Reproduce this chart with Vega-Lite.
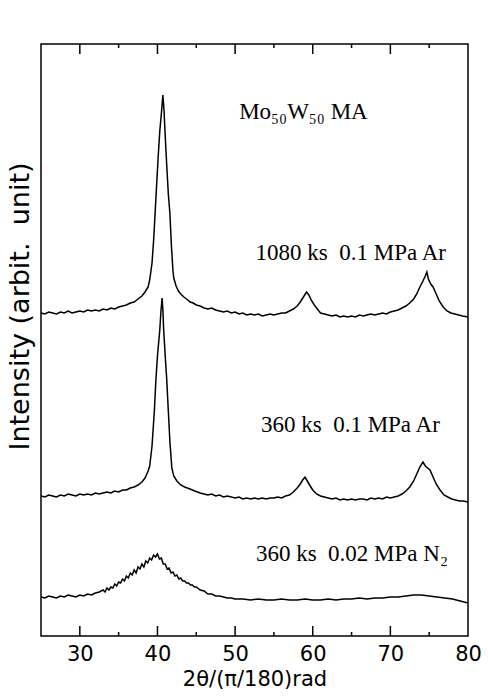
{
  "$schema": "https://vega.github.io/schema/vega-lite/v6.json",
  "width": 427,
  "height": 592,
  "autosize": {"type": "none"},
  "padding": {"left": 41, "top": 44, "right": 20, "bottom": 60},
  "background": "white",
  "config": {
    "view": {"stroke": "black", "strokeWidth": 1.5},
    "axis": {"grid": false, "domain": false, "labelColor": "black", "titleColor": "black"}
  },
  "datasets": {
    "curves": [
      {"series": "1080 ks", "angle": 25, "intensity": 323}, {"series": "1080 ks", "angle": 25.5, "intensity": 322}, {"series": "1080 ks", "angle": 26, "intensity": 324}, {"series": "1080 ks", "angle": 26.5, "intensity": 323}, {"series": "1080 ks", "angle": 27, "intensity": 322}, {"series": "1080 ks", "angle": 27.5, "intensity": 324}, {"series": "1080 ks", "angle": 28, "intensity": 323}, {"series": "1080 ks", "angle": 28.5, "intensity": 325}, {"series": "1080 ks", "angle": 29, "intensity": 323}, {"series": "1080 ks", "angle": 29.5, "intensity": 324}, {"series": "1080 ks", "angle": 30, "intensity": 325}, {"series": "1080 ks", "angle": 30.5, "intensity": 324}, {"series": "1080 ks", "angle": 31, "intensity": 326}, {"series": "1080 ks", "angle": 31.5, "intensity": 325}, {"series": "1080 ks", "angle": 32, "intensity": 326}, {"series": "1080 ks", "angle": 32.5, "intensity": 325}, {"series": "1080 ks", "angle": 33, "intensity": 327}, {"series": "1080 ks", "angle": 33.5, "intensity": 326}, {"series": "1080 ks", "angle": 34, "intensity": 328}, {"series": "1080 ks", "angle": 34.5, "intensity": 327}, {"series": "1080 ks", "angle": 35, "intensity": 329}, {"series": "1080 ks", "angle": 35.5, "intensity": 330}, {"series": "1080 ks", "angle": 36, "intensity": 331}, {"series": "1080 ks", "angle": 36.5, "intensity": 333}, {"series": "1080 ks", "angle": 37, "intensity": 334}, {"series": "1080 ks", "angle": 37.5, "intensity": 337}, {"series": "1080 ks", "angle": 38, "intensity": 340}, {"series": "1080 ks", "angle": 38.4, "intensity": 344}, {"series": "1080 ks", "angle": 38.8, "intensity": 349}, {"series": "1080 ks", "angle": 39.0, "intensity": 356}, {"series": "1080 ks", "angle": 39.3, "intensity": 373}, {"series": "1080 ks", "angle": 39.5, "intensity": 395}, {"series": "1080 ks", "angle": 39.7, "intensity": 423}, {"series": "1080 ks", "angle": 39.9, "intensity": 452}, {"series": "1080 ks", "angle": 40.1, "intensity": 480}, {"series": "1080 ks", "angle": 40.3, "intensity": 505}, {"series": "1080 ks", "angle": 40.5, "intensity": 522}, {"series": "1080 ks", "angle": 40.7, "intensity": 541}, {"series": "1080 ks", "angle": 40.85, "intensity": 525}, {"series": "1080 ks", "angle": 41.0, "intensity": 500}, {"series": "1080 ks", "angle": 41.2, "intensity": 470}, {"series": "1080 ks", "angle": 41.4, "intensity": 442}, {"series": "1080 ks", "angle": 41.6, "intensity": 423}, {"series": "1080 ks", "angle": 41.8, "intensity": 390}, {"series": "1080 ks", "angle": 42.0, "intensity": 365}, {"series": "1080 ks", "angle": 42.1, "intensity": 358}, {"series": "1080 ks", "angle": 42.4, "intensity": 350}, {"series": "1080 ks", "angle": 42.7, "intensity": 345}, {"series": "1080 ks", "angle": 43.0, "intensity": 342}, {"series": "1080 ks", "angle": 43.4, "intensity": 339}, {"series": "1080 ks", "angle": 43.75, "intensity": 337}, {"series": "1080 ks", "angle": 44.2, "intensity": 334}, {"series": "1080 ks", "angle": 44.6, "intensity": 333}, {"series": "1080 ks", "angle": 45, "intensity": 331}, {"series": "1080 ks", "angle": 45.5, "intensity": 330}, {"series": "1080 ks", "angle": 46, "intensity": 328}, {"series": "1080 ks", "angle": 46.5, "intensity": 327}, {"series": "1080 ks", "angle": 47, "intensity": 328}, {"series": "1080 ks", "angle": 47.5, "intensity": 326}, {"series": "1080 ks", "angle": 48, "intensity": 325}, {"series": "1080 ks", "angle": 48.5, "intensity": 324}, {"series": "1080 ks", "angle": 49, "intensity": 325}, {"series": "1080 ks", "angle": 49.5, "intensity": 323}, {"series": "1080 ks", "angle": 50, "intensity": 324}, {"series": "1080 ks", "angle": 50.5, "intensity": 322}, {"series": "1080 ks", "angle": 51, "intensity": 323}, {"series": "1080 ks", "angle": 51.5, "intensity": 321}, {"series": "1080 ks", "angle": 52, "intensity": 322}, {"series": "1080 ks", "angle": 52.5, "intensity": 321}, {"series": "1080 ks", "angle": 53, "intensity": 322}, {"series": "1080 ks", "angle": 53.5, "intensity": 320}, {"series": "1080 ks", "angle": 54, "intensity": 321}, {"series": "1080 ks", "angle": 54.5, "intensity": 322}, {"series": "1080 ks", "angle": 55, "intensity": 321}, {"series": "1080 ks", "angle": 55.5, "intensity": 322}, {"series": "1080 ks", "angle": 56, "intensity": 323}, {"series": "1080 ks", "angle": 56.5, "intensity": 323}, {"series": "1080 ks", "angle": 57, "intensity": 325}, {"series": "1080 ks", "angle": 57.5, "intensity": 327}, {"series": "1080 ks", "angle": 58, "intensity": 330}, {"series": "1080 ks", "angle": 58.4, "intensity": 334}, {"series": "1080 ks", "angle": 58.8, "intensity": 339}, {"series": "1080 ks", "angle": 59.2, "intensity": 344}, {"series": "1080 ks", "angle": 59.5, "intensity": 341}, {"series": "1080 ks", "angle": 59.8, "intensity": 336}, {"series": "1080 ks", "angle": 60.2, "intensity": 331}, {"series": "1080 ks", "angle": 60.6, "intensity": 327}, {"series": "1080 ks", "angle": 61, "intensity": 323}, {"series": "1080 ks", "angle": 61.5, "intensity": 322}, {"series": "1080 ks", "angle": 62, "intensity": 321}, {"series": "1080 ks", "angle": 62.5, "intensity": 320}, {"series": "1080 ks", "angle": 63, "intensity": 321}, {"series": "1080 ks", "angle": 63.5, "intensity": 319}, {"series": "1080 ks", "angle": 64, "intensity": 320}, {"series": "1080 ks", "angle": 64.5, "intensity": 319}, {"series": "1080 ks", "angle": 65, "intensity": 320}, {"series": "1080 ks", "angle": 65.5, "intensity": 319}, {"series": "1080 ks", "angle": 66, "intensity": 321}, {"series": "1080 ks", "angle": 66.5, "intensity": 320}, {"series": "1080 ks", "angle": 67, "intensity": 321}, {"series": "1080 ks", "angle": 67.5, "intensity": 322}, {"series": "1080 ks", "angle": 68, "intensity": 321}, {"series": "1080 ks", "angle": 68.5, "intensity": 322}, {"series": "1080 ks", "angle": 69, "intensity": 323}, {"series": "1080 ks", "angle": 69.5, "intensity": 322}, {"series": "1080 ks", "angle": 70, "intensity": 324}, {"series": "1080 ks", "angle": 70.5, "intensity": 325}, {"series": "1080 ks", "angle": 71, "intensity": 326}, {"series": "1080 ks", "angle": 71.5, "intensity": 328}, {"series": "1080 ks", "angle": 72, "intensity": 330}, {"series": "1080 ks", "angle": 72.5, "intensity": 333}, {"series": "1080 ks", "angle": 73, "intensity": 337}, {"series": "1080 ks", "angle": 73.4, "intensity": 342}, {"series": "1080 ks", "angle": 73.8, "intensity": 349}, {"series": "1080 ks", "angle": 74.2, "intensity": 355}, {"series": "1080 ks", "angle": 74.5, "intensity": 360}, {"series": "1080 ks", "angle": 74.7, "intensity": 364}, {"series": "1080 ks", "angle": 74.9, "intensity": 357}, {"series": "1080 ks", "angle": 75.2, "intensity": 352}, {"series": "1080 ks", "angle": 75.5, "intensity": 349}, {"series": "1080 ks", "angle": 75.9, "intensity": 342}, {"series": "1080 ks", "angle": 76.3, "intensity": 335}, {"series": "1080 ks", "angle": 76.8, "intensity": 329}, {"series": "1080 ks", "angle": 77.3, "intensity": 325}, {"series": "1080 ks", "angle": 77.8, "intensity": 323}, {"series": "1080 ks", "angle": 78.3, "intensity": 322}, {"series": "1080 ks", "angle": 78.8, "intensity": 321}, {"series": "1080 ks", "angle": 79.3, "intensity": 320}, {"series": "1080 ks", "angle": 80, "intensity": 319},

      {"series": "360 ks Ar", "angle": 25, "intensity": 140}, {"series": "360 ks Ar", "angle": 25.5, "intensity": 139}, {"series": "360 ks Ar", "angle": 26, "intensity": 141}, {"series": "360 ks Ar", "angle": 26.5, "intensity": 140}, {"series": "360 ks Ar", "angle": 27, "intensity": 139}, {"series": "360 ks Ar", "angle": 27.5, "intensity": 141}, {"series": "360 ks Ar", "angle": 28, "intensity": 140}, {"series": "360 ks Ar", "angle": 28.5, "intensity": 142}, {"series": "360 ks Ar", "angle": 29, "intensity": 141}, {"series": "360 ks Ar", "angle": 29.5, "intensity": 140}, {"series": "360 ks Ar", "angle": 30, "intensity": 142}, {"series": "360 ks Ar", "angle": 30.5, "intensity": 141}, {"series": "360 ks Ar", "angle": 31, "intensity": 142}, {"series": "360 ks Ar", "angle": 31.5, "intensity": 141}, {"series": "360 ks Ar", "angle": 32, "intensity": 143}, {"series": "360 ks Ar", "angle": 32.5, "intensity": 142}, {"series": "360 ks Ar", "angle": 33, "intensity": 143}, {"series": "360 ks Ar", "angle": 33.5, "intensity": 144}, {"series": "360 ks Ar", "angle": 34, "intensity": 143}, {"series": "360 ks Ar", "angle": 34.5, "intensity": 145}, {"series": "360 ks Ar", "angle": 35, "intensity": 144}, {"series": "360 ks Ar", "angle": 35.5, "intensity": 146}, {"series": "360 ks Ar", "angle": 36, "intensity": 146}, {"series": "360 ks Ar", "angle": 36.5, "intensity": 148}, {"series": "360 ks Ar", "angle": 37, "intensity": 149}, {"series": "360 ks Ar", "angle": 37.5, "intensity": 151}, {"series": "360 ks Ar", "angle": 38, "intensity": 154}, {"series": "360 ks Ar", "angle": 38.4, "intensity": 158}, {"series": "360 ks Ar", "angle": 38.8, "intensity": 165}, {"series": "360 ks Ar", "angle": 39.0, "intensity": 170}, {"series": "360 ks Ar", "angle": 39.3, "intensity": 190}, {"series": "360 ks Ar", "angle": 39.6, "intensity": 225}, {"series": "360 ks Ar", "angle": 39.8, "intensity": 256}, {"series": "360 ks Ar", "angle": 40.0, "intensity": 280}, {"series": "360 ks Ar", "angle": 40.3, "intensity": 306}, {"series": "360 ks Ar", "angle": 40.45, "intensity": 325}, {"series": "360 ks Ar", "angle": 40.6, "intensity": 338}, {"series": "360 ks Ar", "angle": 40.7, "intensity": 326}, {"series": "360 ks Ar", "angle": 40.8, "intensity": 306}, {"series": "360 ks Ar", "angle": 41.0, "intensity": 280}, {"series": "360 ks Ar", "angle": 41.2, "intensity": 256}, {"series": "360 ks Ar", "angle": 41.4, "intensity": 225}, {"series": "360 ks Ar", "angle": 41.6, "intensity": 195}, {"series": "360 ks Ar", "angle": 41.85, "intensity": 168}, {"series": "360 ks Ar", "angle": 42.1, "intensity": 160}, {"series": "360 ks Ar", "angle": 42.5, "intensity": 155}, {"series": "360 ks Ar", "angle": 43, "intensity": 151}, {"series": "360 ks Ar", "angle": 43.5, "intensity": 149}, {"series": "360 ks Ar", "angle": 44.2, "intensity": 147}, {"series": "360 ks Ar", "angle": 44.8, "intensity": 145}, {"series": "360 ks Ar", "angle": 45.5, "intensity": 143}, {"series": "360 ks Ar", "angle": 46, "intensity": 142}, {"series": "360 ks Ar", "angle": 46.5, "intensity": 141}, {"series": "360 ks Ar", "angle": 47, "intensity": 142}, {"series": "360 ks Ar", "angle": 47.5, "intensity": 140}, {"series": "360 ks Ar", "angle": 48, "intensity": 141}, {"series": "360 ks Ar", "angle": 48.5, "intensity": 139}, {"series": "360 ks Ar", "angle": 49, "intensity": 140}, {"series": "360 ks Ar", "angle": 49.5, "intensity": 139}, {"series": "360 ks Ar", "angle": 50, "intensity": 138}, {"series": "360 ks Ar", "angle": 50.5, "intensity": 139}, {"series": "360 ks Ar", "angle": 51, "intensity": 137}, {"series": "360 ks Ar", "angle": 51.5, "intensity": 138}, {"series": "360 ks Ar", "angle": 52, "intensity": 137}, {"series": "360 ks Ar", "angle": 52.5, "intensity": 138}, {"series": "360 ks Ar", "angle": 53, "intensity": 137}, {"series": "360 ks Ar", "angle": 53.5, "intensity": 138}, {"series": "360 ks Ar", "angle": 54, "intensity": 137}, {"series": "360 ks Ar", "angle": 54.5, "intensity": 138}, {"series": "360 ks Ar", "angle": 55, "intensity": 138}, {"series": "360 ks Ar", "angle": 55.5, "intensity": 139}, {"series": "360 ks Ar", "angle": 56, "intensity": 138}, {"series": "360 ks Ar", "angle": 56.5, "intensity": 140}, {"series": "360 ks Ar", "angle": 57, "intensity": 141}, {"series": "360 ks Ar", "angle": 57.5, "intensity": 144}, {"series": "360 ks Ar", "angle": 58, "intensity": 148}, {"series": "360 ks Ar", "angle": 58.4, "intensity": 152}, {"series": "360 ks Ar", "angle": 58.7, "intensity": 156}, {"series": "360 ks Ar", "angle": 59.0, "intensity": 159}, {"series": "360 ks Ar", "angle": 59.3, "intensity": 155}, {"series": "360 ks Ar", "angle": 59.6, "intensity": 151}, {"series": "360 ks Ar", "angle": 60, "intensity": 146}, {"series": "360 ks Ar", "angle": 60.5, "intensity": 142}, {"series": "360 ks Ar", "angle": 61, "intensity": 140}, {"series": "360 ks Ar", "angle": 61.5, "intensity": 139}, {"series": "360 ks Ar", "angle": 62, "intensity": 138}, {"series": "360 ks Ar", "angle": 62.5, "intensity": 137}, {"series": "360 ks Ar", "angle": 63, "intensity": 138}, {"series": "360 ks Ar", "angle": 63.5, "intensity": 136}, {"series": "360 ks Ar", "angle": 64, "intensity": 137}, {"series": "360 ks Ar", "angle": 64.5, "intensity": 136}, {"series": "360 ks Ar", "angle": 65, "intensity": 137}, {"series": "360 ks Ar", "angle": 65.5, "intensity": 136}, {"series": "360 ks Ar", "angle": 66, "intensity": 137}, {"series": "360 ks Ar", "angle": 66.5, "intensity": 137}, {"series": "360 ks Ar", "angle": 67, "intensity": 136}, {"series": "360 ks Ar", "angle": 67.5, "intensity": 138}, {"series": "360 ks Ar", "angle": 68, "intensity": 137}, {"series": "360 ks Ar", "angle": 68.5, "intensity": 138}, {"series": "360 ks Ar", "angle": 69, "intensity": 137}, {"series": "360 ks Ar", "angle": 69.5, "intensity": 139}, {"series": "360 ks Ar", "angle": 70, "intensity": 138}, {"series": "360 ks Ar", "angle": 70.5, "intensity": 139}, {"series": "360 ks Ar", "angle": 71, "intensity": 140}, {"series": "360 ks Ar", "angle": 71.5, "intensity": 142}, {"series": "360 ks Ar", "angle": 72, "intensity": 145}, {"series": "360 ks Ar", "angle": 72.5, "intensity": 149}, {"series": "360 ks Ar", "angle": 73, "intensity": 155}, {"series": "360 ks Ar", "angle": 73.4, "intensity": 162}, {"series": "360 ks Ar", "angle": 73.8, "intensity": 169}, {"series": "360 ks Ar", "angle": 74.2, "intensity": 174}, {"series": "360 ks Ar", "angle": 74.5, "intensity": 170}, {"series": "360 ks Ar", "angle": 74.8, "intensity": 168}, {"series": "360 ks Ar", "angle": 75.1, "intensity": 166}, {"series": "360 ks Ar", "angle": 75.5, "intensity": 159}, {"series": "360 ks Ar", "angle": 75.9, "intensity": 152}, {"series": "360 ks Ar", "angle": 76.4, "intensity": 146}, {"series": "360 ks Ar", "angle": 76.9, "intensity": 141}, {"series": "360 ks Ar", "angle": 77.4, "intensity": 139}, {"series": "360 ks Ar", "angle": 77.9, "intensity": 137}, {"series": "360 ks Ar", "angle": 78.4, "intensity": 136}, {"series": "360 ks Ar", "angle": 78.9, "intensity": 135}, {"series": "360 ks Ar", "angle": 79.4, "intensity": 135}, {"series": "360 ks Ar", "angle": 80, "intensity": 134},

      {"series": "360 ks N2", "angle": 25, "intensity": 39}, {"series": "360 ks N2", "angle": 25.5, "intensity": 38}, {"series": "360 ks N2", "angle": 26, "intensity": 40}, {"series": "360 ks N2", "angle": 26.5, "intensity": 39}, {"series": "360 ks N2", "angle": 27, "intensity": 38}, {"series": "360 ks N2", "angle": 27.5, "intensity": 40}, {"series": "360 ks N2", "angle": 28, "intensity": 39}, {"series": "360 ks N2", "angle": 28.5, "intensity": 41}, {"series": "360 ks N2", "angle": 29, "intensity": 40}, {"series": "360 ks N2", "angle": 29.5, "intensity": 39}, {"series": "360 ks N2", "angle": 30, "intensity": 41}, {"series": "360 ks N2", "angle": 30.5, "intensity": 40}, {"series": "360 ks N2", "angle": 31, "intensity": 42}, {"series": "360 ks N2", "angle": 31.5, "intensity": 41}, {"series": "360 ks N2", "angle": 32, "intensity": 43}, {"series": "360 ks N2", "angle": 32.5, "intensity": 44},
      {"series": "360 ks N2", "angle": 33, "intensity": 46}, {"series": "360 ks N2", "angle": 33.25, "intensity": 44}, {"series": "360 ks N2", "angle": 33.5, "intensity": 48}, {"series": "360 ks N2", "angle": 33.75, "intensity": 46}, {"series": "360 ks N2", "angle": 34, "intensity": 49}, {"series": "360 ks N2", "angle": 34.25, "intensity": 48}, {"series": "360 ks N2", "angle": 34.5, "intensity": 52}, {"series": "360 ks N2", "angle": 34.75, "intensity": 50}, {"series": "360 ks N2", "angle": 35, "intensity": 54}, {"series": "360 ks N2", "angle": 35.25, "intensity": 53}, {"series": "360 ks N2", "angle": 35.5, "intensity": 57}, {"series": "360 ks N2", "angle": 35.75, "intensity": 55}, {"series": "360 ks N2", "angle": 36, "intensity": 60}, {"series": "360 ks N2", "angle": 36.25, "intensity": 58}, {"series": "360 ks N2", "angle": 36.5, "intensity": 63}, {"series": "360 ks N2", "angle": 36.75, "intensity": 61}, {"series": "360 ks N2", "angle": 37, "intensity": 66}, {"series": "360 ks N2", "angle": 37.25, "intensity": 63}, {"series": "360 ks N2", "angle": 37.5, "intensity": 69}, {"series": "360 ks N2", "angle": 37.75, "intensity": 67}, {"series": "360 ks N2", "angle": 38, "intensity": 72}, {"series": "360 ks N2", "angle": 38.25, "intensity": 69}, {"series": "360 ks N2", "angle": 38.5, "intensity": 75}, {"series": "360 ks N2", "angle": 38.75, "intensity": 73}, {"series": "360 ks N2", "angle": 39, "intensity": 78}, {"series": "360 ks N2", "angle": 39.25, "intensity": 76}, {"series": "360 ks N2", "angle": 39.5, "intensity": 81}, {"series": "360 ks N2", "angle": 39.75, "intensity": 79}, {"series": "360 ks N2", "angle": 40, "intensity": 82}, {"series": "360 ks N2", "angle": 40.25, "intensity": 77}, {"series": "360 ks N2", "angle": 40.5, "intensity": 78}, {"series": "360 ks N2", "angle": 40.75, "intensity": 72}, {"series": "360 ks N2", "angle": 41, "intensity": 72}, {"series": "360 ks N2", "angle": 41.25, "intensity": 67}, {"series": "360 ks N2", "angle": 41.5, "intensity": 68}, {"series": "360 ks N2", "angle": 41.75, "intensity": 63}, {"series": "360 ks N2", "angle": 42, "intensity": 64}, {"series": "360 ks N2", "angle": 42.25, "intensity": 60}, {"series": "360 ks N2", "angle": 42.5, "intensity": 61}, {"series": "360 ks N2", "angle": 42.75, "intensity": 57}, {"series": "360 ks N2", "angle": 43, "intensity": 58}, {"series": "360 ks N2", "angle": 43.25, "intensity": 55}, {"series": "360 ks N2", "angle": 43.5, "intensity": 55}, {"series": "360 ks N2", "angle": 43.75, "intensity": 53}, {"series": "360 ks N2", "angle": 44, "intensity": 53}, {"series": "360 ks N2", "angle": 44.25, "intensity": 51}, {"series": "360 ks N2", "angle": 44.5, "intensity": 51}, {"series": "360 ks N2", "angle": 44.75, "intensity": 49}, {"series": "360 ks N2", "angle": 45, "intensity": 49}, {"series": "360 ks N2", "angle": 45.5, "intensity": 46}, {"series": "360 ks N2", "angle": 46, "intensity": 45}, {"series": "360 ks N2", "angle": 46.5, "intensity": 42}, {"series": "360 ks N2", "angle": 47, "intensity": 42}, {"series": "360 ks N2", "angle": 47.5, "intensity": 40},
      {"series": "360 ks N2", "angle": 48, "intensity": 40}, {"series": "360 ks N2", "angle": 48.5, "intensity": 39}, {"series": "360 ks N2", "angle": 49, "intensity": 38}, {"series": "360 ks N2", "angle": 49.5, "intensity": 38}, {"series": "360 ks N2", "angle": 50, "intensity": 37}, {"series": "360 ks N2", "angle": 51, "intensity": 37}, {"series": "360 ks N2", "angle": 52, "intensity": 36}, {"series": "360 ks N2", "angle": 53, "intensity": 37}, {"series": "360 ks N2", "angle": 54, "intensity": 36}, {"series": "360 ks N2", "angle": 55, "intensity": 36}, {"series": "360 ks N2", "angle": 56, "intensity": 37}, {"series": "360 ks N2", "angle": 57, "intensity": 36}, {"series": "360 ks N2", "angle": 58, "intensity": 36}, {"series": "360 ks N2", "angle": 59, "intensity": 37}, {"series": "360 ks N2", "angle": 60, "intensity": 36}, {"series": "360 ks N2", "angle": 61, "intensity": 36}, {"series": "360 ks N2", "angle": 62, "intensity": 37}, {"series": "360 ks N2", "angle": 63, "intensity": 36}, {"series": "360 ks N2", "angle": 64, "intensity": 37}, {"series": "360 ks N2", "angle": 65, "intensity": 37}, {"series": "360 ks N2", "angle": 66, "intensity": 38}, {"series": "360 ks N2", "angle": 67, "intensity": 37}, {"series": "360 ks N2", "angle": 68, "intensity": 38}, {"series": "360 ks N2", "angle": 69, "intensity": 38}, {"series": "360 ks N2", "angle": 70, "intensity": 39}, {"series": "360 ks N2", "angle": 71, "intensity": 39}, {"series": "360 ks N2", "angle": 72, "intensity": 40}, {"series": "360 ks N2", "angle": 73, "intensity": 41}, {"series": "360 ks N2", "angle": 74, "intensity": 41}, {"series": "360 ks N2", "angle": 75, "intensity": 40}, {"series": "360 ks N2", "angle": 76, "intensity": 39}, {"series": "360 ks N2", "angle": 77, "intensity": 38}, {"series": "360 ks N2", "angle": 78, "intensity": 37}, {"series": "360 ks N2", "angle": 79, "intensity": 35}, {"series": "360 ks N2", "angle": 80, "intensity": 33}
    ],
    "notes": [
      {"angle": 58.8, "intensity": 524, "label": "Mo₅₀W₅₀ MA"},
      {"angle": 64.9, "intensity": 383, "label": "1080 ks\u00a0 0.1 MPa Ar"},
      {"angle": 64.85, "intensity": 211, "label": "360 ks\u00a0 0.1 MPa Ar"},
      {"angle": 65.05, "intensity": 82, "label": "360 ks\u00a0 0.02 MPa N₂"}
    ],
    "tickmarks": [
      {"tick": "b30", "angle": 30, "intensity": 0}, {"tick": "b30", "angle": 30, "intensity": 10},
      {"tick": "b40", "angle": 40, "intensity": 0}, {"tick": "b40", "angle": 40, "intensity": 10},
      {"tick": "b50", "angle": 50, "intensity": 0}, {"tick": "b50", "angle": 50, "intensity": 10},
      {"tick": "b60", "angle": 60, "intensity": 0}, {"tick": "b60", "angle": 60, "intensity": 10},
      {"tick": "b70", "angle": 70, "intensity": 0}, {"tick": "b70", "angle": 70, "intensity": 10},
      {"tick": "t30", "angle": 30, "intensity": 582}, {"tick": "t30", "angle": 30, "intensity": 592},
      {"tick": "t40", "angle": 40, "intensity": 582}, {"tick": "t40", "angle": 40, "intensity": 592},
      {"tick": "t50", "angle": 50, "intensity": 582}, {"tick": "t50", "angle": 50, "intensity": 592},
      {"tick": "t60", "angle": 60, "intensity": 582}, {"tick": "t60", "angle": 60, "intensity": 592},
      {"tick": "t70", "angle": 70, "intensity": 582}, {"tick": "t70", "angle": 70, "intensity": 592},
      {"tick": "b35", "angle": 35, "intensity": 0}, {"tick": "b35", "angle": 35, "intensity": 4},
      {"tick": "b45", "angle": 45, "intensity": 0}, {"tick": "b45", "angle": 45, "intensity": 4},
      {"tick": "b55", "angle": 55, "intensity": 0}, {"tick": "b55", "angle": 55, "intensity": 4},
      {"tick": "b65", "angle": 65, "intensity": 0}, {"tick": "b65", "angle": 65, "intensity": 4},
      {"tick": "b75", "angle": 75, "intensity": 0}, {"tick": "b75", "angle": 75, "intensity": 4},
      {"tick": "t35", "angle": 35, "intensity": 588}, {"tick": "t35", "angle": 35, "intensity": 592},
      {"tick": "t45", "angle": 45, "intensity": 588}, {"tick": "t45", "angle": 45, "intensity": 592},
      {"tick": "t55", "angle": 55, "intensity": 588}, {"tick": "t55", "angle": 55, "intensity": 592},
      {"tick": "t65", "angle": 65, "intensity": 588}, {"tick": "t65", "angle": 65, "intensity": 592},
      {"tick": "t75", "angle": 75, "intensity": 588}, {"tick": "t75", "angle": 75, "intensity": 592}
    ]
  },
  "layer": [
    {
      "data": {"name": "curves"},
      "mark": {"type": "line", "color": "black", "strokeWidth": 1.5},
      "encoding": {
        "x": {
          "field": "angle", "type": "quantitative",
          "scale": {"domain": [25, 80], "nice": false, "zero": false},
          "axis": {
            "orient": "bottom",
            "values": [30, 40, 50, 60, 70, 80],
            "ticks": false, "tickSize": 0,
            "labelFont": "DejaVu Sans", "labelFontSize": 21, "labelPadding": 7,
            "labelFlush": false,
            "title": "2θ/(π/180)rad", "titleFont": "DejaVu Sans", "titleFontSize": 21, "titleFontWeight": "normal", "titlePadding": 4
          }
        },
        "y": {
          "field": "intensity", "type": "quantitative",
          "scale": {"domain": [0, 592], "nice": false, "zero": false},
          "axis": {
            "orient": "left", "ticks": false, "labels": false, "domain": false,
            "title": "Intensity (arbit.\u00a0 unit)", "titleFont": "DejaVu Sans", "titleFontSize": 27, "titleFontWeight": "normal",
            "titleAngle": -90, "titleBaseline": "middle", "titleAlign": "center", "titleX": -21, "titleY": 262
          }
        },
        "detail": {"field": "series"}
      }
    },
    {
      "data": {"name": "tickmarks"},
      "mark": {"type": "line", "color": "black", "strokeWidth": 1.5},
      "encoding": {
        "x": {"field": "angle", "type": "quantitative"},
        "y": {"field": "intensity", "type": "quantitative"},
        "detail": {"field": "tick"}
      }
    },
    {
      "data": {"name": "notes"},
      "mark": {"type": "text", "font": "Liberation Serif", "fontSize": 23, "color": "black", "align": "center", "baseline": "middle"},
      "encoding": {
        "x": {"field": "angle", "type": "quantitative"},
        "y": {"field": "intensity", "type": "quantitative"},
        "text": {"field": "label"}
      }
    }
  ]
}
